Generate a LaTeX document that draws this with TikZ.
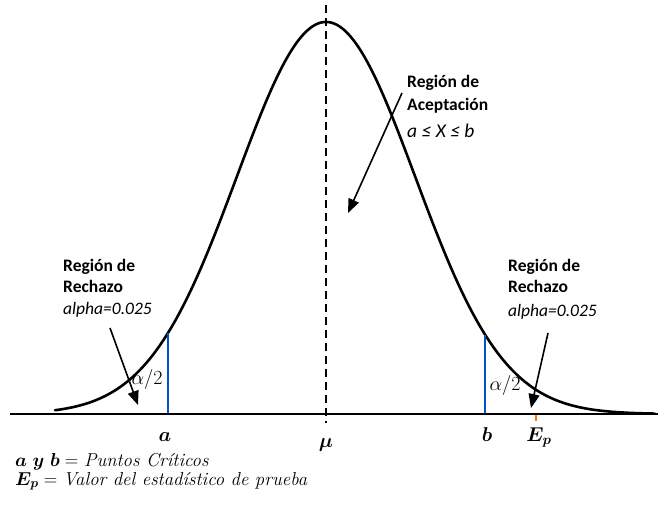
\RequirePackage{fix-cm}
\documentclass[tikz,border=0pt]{standalone}
\usepackage{amsmath,amssymb}
\usepackage{fontspec}
\newfontfamily\calib{Carlito}
\usetikzlibrary{arrows.meta}
\begin{document}
\begin{tikzpicture}[x=1pt,y=-1pt,
  lbl/.style={anchor=base west,inner sep=0pt,font=\calib\fontsize{17.5}{21}\selectfont\bfseries},
  lbli/.style={anchor=base west,inner sep=0pt,font=\calib\fontsize{17.5}{21}\selectfont\itshape},
  mathlbl/.style={anchor=base,inner sep=0pt,font=\fontsize{20}{24}\selectfont},
  legend/.style={anchor=base west,inner sep=0pt,font=\fontsize{18.7}{21}\selectfont},
  curve/.style={line width=2.6pt},
  axisline/.style={line width=2.6pt},
  crit/.style={line width=1.4pt,color=blue!60!cyan!80!black},
  ptr/.style={line width=1.6pt,-{Triangle[length=14pt,width=11pt]}}]
\useasboundingbox (0,0) rectangle (664,504);
\fill[white] (0,0) rectangle (664,504);
% axis
\coordinate (axL) at (10,414);
\coordinate (axR) at (658,414);
\draw[axisline] (axL) -- (axR);
% mean dashed line
\coordinate (mtop) at (326,5);
\coordinate (mbot) at (326,423);
\draw[line width=2pt,dash pattern=on 8pt off 5pt] (mtop) -- (mbot);
% normal curve
\draw[curve,line cap=round] plot[domain=55:655,samples=240,smooth] (\x,{414-392*exp(-0.5*((\x-326)/89)^2)});
% critical lines
\coordinate (aTop) at (168,{414-392*exp(-0.5*((168-326)/89)^2)});
\coordinate (aBot) at (168,413);
\coordinate (bTop) at (485,{414-392*exp(-0.5*((485-326)/89)^2)});
\coordinate (bBot) at (485,413);
\draw[crit] (aTop) -- (aBot);
\draw[crit] (bTop) -- (bBot);
% Ep tick
\coordinate (epT) at (536,415);
\coordinate (epB) at (536,421);
\draw[line width=1.4pt,color=orange!90!red] (epT) -- (epB);
% acceptance label
\node[lbl] (acc1) at (407,87) {Región de};
\node[lbl] (acc2) at (407,110) {Aceptación};
\node[lbli,font=\calib\fontsize{19.5}{23}\selectfont\itshape] (acc3) at (407,137) {a ≤ X ≤ b};
\coordinate (accS) at (402,93);
\coordinate (accE) at (348,213);
\draw[ptr] (accS) -- (accE);
% left rejection
\node[lbl] (l1) at (63,271) {Región de};
\node[lbl] (l2) at (63,292) {Rechazo};
\node[lbli] (l3) at (63,314) {alpha=0.025};
\coordinate (lS) at (110,328);
\coordinate (lE) at (138,405);
\draw[ptr] (lS) -- (lE);
\node[mathlbl] (la) at (147,384) {$\alpha/2$};
% right rejection
\node[lbl] (r1) at (508,271) {Región de};
\node[lbl] (r2) at (508,292) {Rechazo};
\node[lbli] (r3) at (508,316) {alpha=0.025};
\coordinate (rS) at (548,333);
\coordinate (rE) at (531,408);
\draw[ptr] (rS) -- (rE);
\node[mathlbl] (ra) at (505,390) {$\alpha/2$};
% axis labels
\node[mathlbl] (ta) at (165,441) {$\boldsymbol{a}$};
\node[mathlbl] (tm) at (326,447) {$\boldsymbol{\mu}$};
\node[mathlbl] (tb) at (487,441) {$\boldsymbol{b}$};
\node[mathlbl] (te) at (539,441) {$\boldsymbol{E_p}$};
% legend
\node[legend] (g1) at (15,466) {$\boldsymbol{a\ y\ b} = $ \textit{Puntos Críticos}};
\node[legend] (g2) at (15,485) {$\boldsymbol{E_p} = $ \textit{Valor del estadístico de prueba}};
\end{tikzpicture}
\end{document}
